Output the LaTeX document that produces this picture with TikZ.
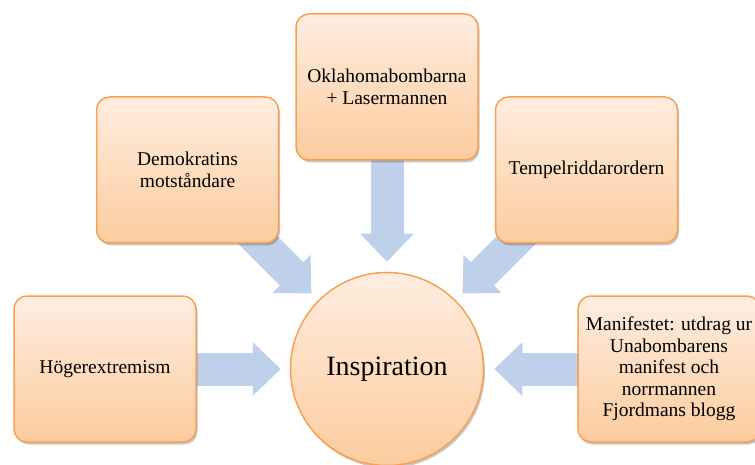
\documentclass[tikz,border=0pt]{standalone}
\usepackage{fontspec}
\setmainfont{Liberation Serif}
\usetikzlibrary{arrows.meta,shadows,backgrounds}

\definecolor{boxTop}{RGB}{254,237,224}
\definecolor{boxBottom}{RGB}{252,204,158}
\definecolor{boxLine}{RGB}{247,160,84}
\definecolor{arrowBlue}{RGB}{191,208,235}

\begin{document}
\begin{tikzpicture}[x=1pt, y=-1pt,
	source/.style={draw=boxLine, line width=1.5pt, rounded corners=13pt, top color=boxTop, bottom color=boxBottom,
		minimum width=182pt, minimum height=146pt, inner sep=2pt, align=center,
		font=\fontsize{19.5}{21.5}\selectfont,
		drop shadow={shadow xshift=1.5pt, shadow yshift=-2.5pt, opacity=0.22, fill=black}},
	hub/.style={circle, draw=boxLine, line width=1.5pt, top color=boxTop, bottom color=boxBottom,
		minimum size=193pt, inner sep=0pt, font=\fontsize{28}{32}\selectfont,
		drop shadow={shadow xshift=1.5pt, shadow yshift=-2.5pt, opacity=0.22, fill=black}},
	feed/.style={draw=arrowBlue, line width=33pt, -{Triangle[length=28pt, width=52pt]}}]
	\useasboundingbox (0,0) rectangle (755,465);

	\node[hub] (insp) at (387,369) {Inspiration};

	\node[source] (okla) at (387,87) {Oklahomabombarna\\+ Lasermannen};
	\node[source] (demo) at (187.5,170) {Demokratins\\motståndare};
	\node[source] (tempel) at (586.5,170) {Tempelriddarordern};
	\node[source] (hoger) at (105,369) {Högerextremism};
	\node[source] (manif) at (669,369) {Manifestet: utdrag ur\\Unabombarens\\manifest och\\norrmannen\\Fjordmans blogg};

	\begin{pgfonlayer}{background}
		\draw[feed, shorten >=10pt] (okla.center) -- (insp);
		\draw[feed, shorten >=9.5pt] (demo.center) -- (insp);
		\draw[feed, shorten >=9.5pt] (tempel.center) -- (insp);
		\draw[feed, shorten >=9pt] (hoger.center) -- (insp);
		\draw[feed, shorten >=10pt] (manif.center) -- (insp);
	\end{pgfonlayer}
\end{tikzpicture}
\end{document}
